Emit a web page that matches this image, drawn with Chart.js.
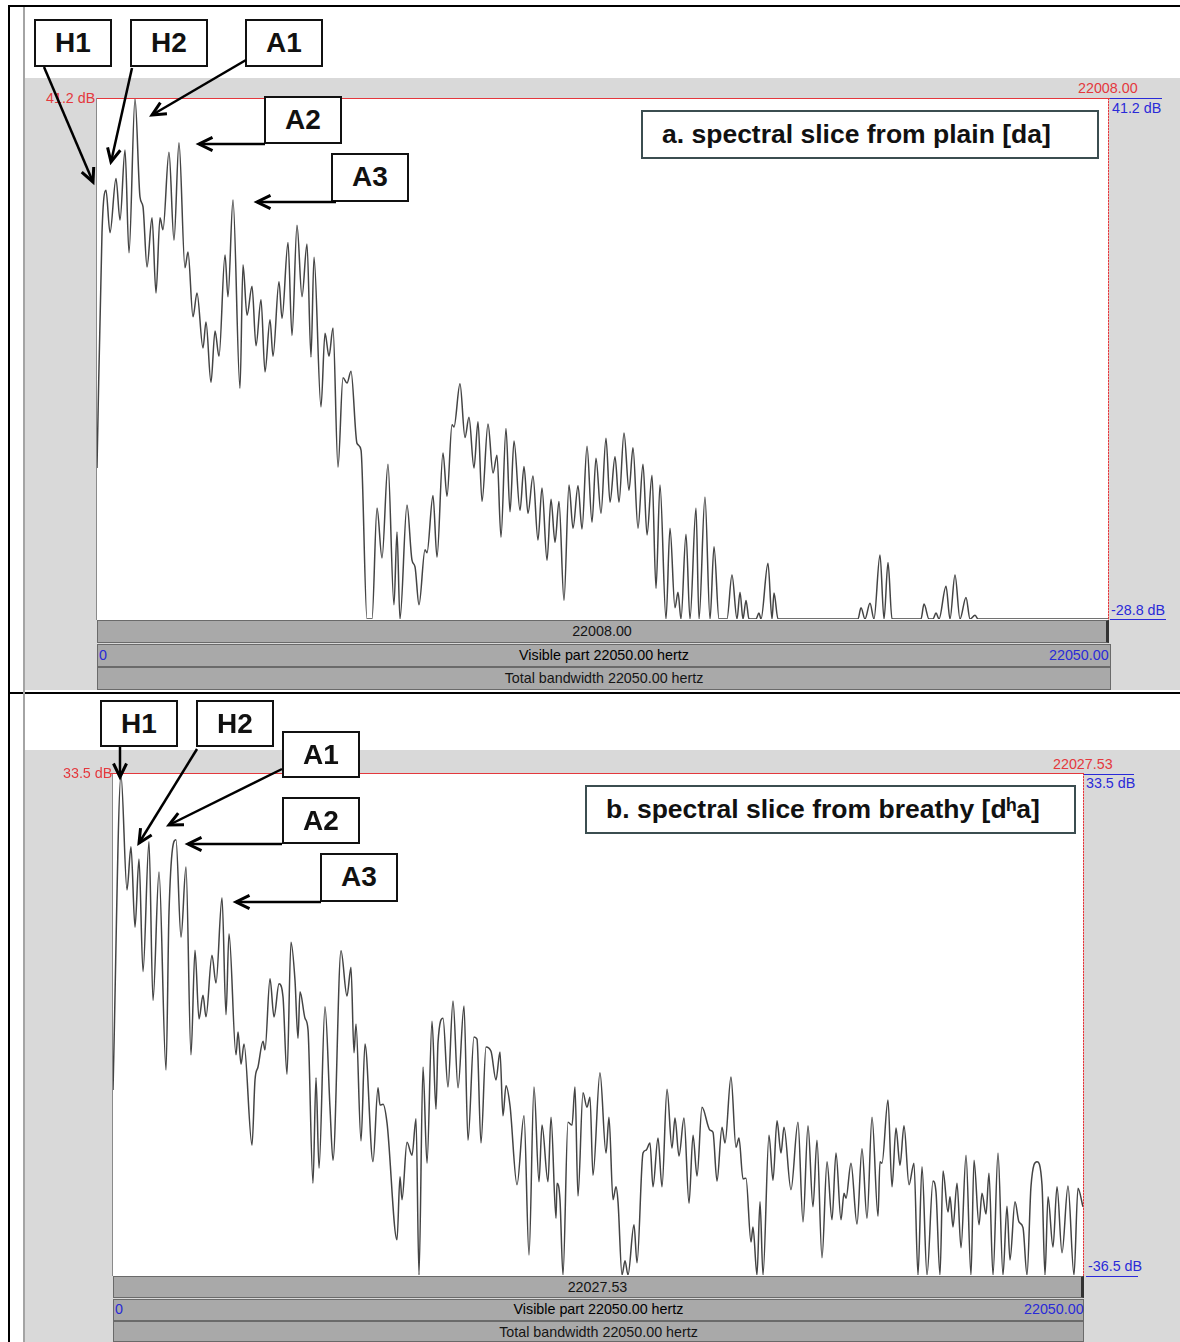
<!DOCTYPE html>
<html>
<head>
<meta charset="utf-8">
<script src="https://cdn.jsdelivr.net/npm/chart.js@4.4.0/dist/chart.umd.min.js"></script>
<style>
body{margin:0;width:1180px;height:1342px;position:relative;background:#fff;overflow:hidden;font-family:"Liberation Sans",Arial,Helvetica,sans-serif}
div,canvas,svg{position:absolute}
.grey{background:#d9d9d9}
.plot{background:#fff;border-left:1px solid #8a8a8a;box-sizing:border-box}
.bar{background:#a9a9a9;border:1px solid #6a6a6a;box-sizing:border-box;font-size:14.3px;line-height:20px;text-align:center;color:#151515}
.lbl{font-size:14.3px;white-space:nowrap;line-height:15px}
.red{color:#e4383d}
.blue{color:#2a2ad8}
.vdot{width:1px;background:repeating-linear-gradient(to bottom,#e4383d 0 2px,#f4a0a0 2px 3px)}
.box{background:#fff;border:2px solid #111;box-sizing:border-box;font-weight:bold;font-size:28px;text-align:center;line-height:43px;color:#111}
.title{background:#fff;border:2px solid #3b4d50;box-sizing:border-box;font-weight:bold;font-size:26.5px;padding-left:19px;line-height:44px;color:#111;white-space:nowrap}
</style>
</head>
<body>
<!-- frame -->
<div style="left:8px;top:5px;width:2px;height:1337px;background:#000"></div>
<div style="left:8px;top:5px;width:1172px;height:2px;background:#000"></div>
<div style="left:8px;top:692px;width:1172px;height:2px;background:#000"></div>
<div style="left:23px;top:7px;width:2px;height:1335px;background:#a4a4a4"></div>

<!-- panel a -->
<div class="grey" style="left:25px;top:78px;width:1155px;height:612px"></div>
<div class="plot" style="left:96px;top:98px;width:1012px;height:522px"></div>
<canvas id="chartA" width="1011" height="521" style="left:97px;top:98px"></canvas>
<div style="left:97px;top:98px;width:1013px;height:1px;background:#e4383d"></div>
<div class="vdot" style="left:1108px;top:98px;height:522px"></div>
<div class="lbl red" id="aTopL" style="left:46px;top:91px"></div>
<div class="lbl red" id="aFreq" style="left:1078px;top:81px"></div>
<div style="left:1110px;top:98px;width:52px;height:1px;background:#2a2ad8"></div>
<div class="lbl blue" id="aTopR" style="left:1112px;top:101px"></div>
<div class="lbl blue" id="aBot" style="left:1111px;top:603px"></div>
<div style="left:1110px;top:619px;width:56px;height:1px;background:#2a2ad8"></div>
<div class="bar" id="aBar1" style="left:97px;top:620px;width:1012px;height:23px;border-right:3px solid #333"></div>
<div class="bar" style="left:97px;top:644px;width:1014px;height:23px"></div>
<div class="lbl" id="aBar2" style="left:97px;top:648px;width:1014px;text-align:center"></div>
<div class="lbl blue" style="left:99px;top:648px">0</div>
<div class="lbl blue" id="aMax" style="left:1049px;top:648px"></div>
<div class="bar" id="aBar3" style="left:97px;top:667px;width:1014px;height:23px"></div>
<div class="title" style="left:641px;top:110px;width:458px;height:49px">a. spectral slice from plain [da]</div>
<div class="box" style="left:34px;top:19px;width:78px;height:48px">H1</div>
<div class="box" style="left:130px;top:19px;width:78px;height:48px">H2</div>
<div class="box" style="left:245px;top:19px;width:78px;height:48px">A1</div>
<div class="box" style="left:264px;top:96px;width:78px;height:48px">A2</div>
<div class="box" style="left:331px;top:153px;width:78px;height:49px">A3</div>

<!-- panel b -->
<div class="grey" style="left:25px;top:750px;width:1155px;height:592px"></div>
<div class="plot" style="left:112px;top:773px;width:971px;height:503px"></div>
<canvas id="chartB" width="970" height="502" style="left:113px;top:773px"></canvas>
<div style="left:111px;top:773px;width:972px;height:1px;background:#e4383d"></div>
<div class="vdot" style="left:1083px;top:773px;height:503px"></div>
<div class="lbl red" id="bTopL" style="left:63px;top:766px"></div>
<div class="lbl red" id="bFreq" style="left:1053px;top:757px"></div>
<div style="left:1084px;top:774px;width:50px;height:1px;background:#2a2ad8"></div>
<div class="lbl blue" id="bTopR" style="left:1086px;top:776px"></div>
<div class="lbl blue" id="bBot" style="left:1088px;top:1259px"></div>
<div style="left:1086px;top:1276px;width:52px;height:1px;background:#2a2ad8"></div>
<div class="bar" id="bBar1" style="left:113px;top:1276px;width:971px;height:22px;border-right:3px solid #333"></div>
<div class="bar" style="left:113px;top:1299px;width:971px;height:22px"></div>
<div class="lbl" id="bBar2" style="left:113px;top:1302px;width:971px;text-align:center"></div>
<div class="lbl blue" style="left:115px;top:1302px">0</div>
<div class="lbl blue" id="bMax" style="left:1024px;top:1302px"></div>
<div class="bar" id="bBar3" style="left:113px;top:1321px;width:971px;height:21px"></div>
<div class="title" style="left:585px;top:785px;width:491px;height:49px">b. spectral slice from breathy [dʰa]</div>
<div class="box" style="left:100px;top:700px;width:78px;height:47px">H1</div>
<div class="box" style="left:196px;top:700px;width:78px;height:47px">H2</div>
<div class="box" style="left:282px;top:731px;width:78px;height:47px">A1</div>
<div class="box" style="left:282px;top:797px;width:78px;height:47px">A2</div>
<div class="box" style="left:320px;top:853px;width:78px;height:49px">A3</div>

<svg id="arrows" width="1180" height="1342" style="left:0;top:0"></svg>

<script>
// frequency range and dB ranges of the two slices
const maxFreq = 22050;
const rangeA = [-28.8, 41.2];
const rangeB = [-36.5, 33.5];
const cursorA = "22008.00";
const cursorB = "22027.53";

// slice a: plain [da]
const freqA = [
  0,109,196,284,414,502,611,698,829,938,
  1003,1091,1200,1287,1374,1439,1570,1679,1788,1919,
  1985,2094,2181,2312,2377,2486,2574,2661,2792,2857,
  2966,3119,3184,3272,3381,3468,3577,3664,3773,3839,
  3969,4035,4166,4253,4362,4471,4580,4667,4733,4885,
  4973,5060,5147,5256,5365,5453,5540,5671,5758,5889,
  5998,6107,6216,6346,6477,6543,6608,6761,6870,6936,
  7023,7154,7197,7328,7415,7546,7634,7743,7786,7917,
  8026,8113,8222,8310,8397,8528,8637,8724,8811,8920,
  9008,9095,9226,9313,9400,9509,9618,9705,9815,9902,
  9989,10076,10185,10294,10382,10491,10578,10687,10796,10883,
  10992,11101,11189,11298,11385,11494,11603,11690,11799,11908,
  11996,12105,12192,12279,
  12410,12497,12606,12672,12737,12846,12933,13064,13130,13260,
  13370,13457,13566,13740,13849,13958,14024,14089,14155,14220,
  14373,14438,14482,14634,14722,14765,14853,
  16597,16663,16750,16859,16946,17077,17165,17252,17339,
  17971,18037,18146,18233,18299,18364,18517,18604,18713,18822,
  18953,19040,19149,19215,22050
];
const dbA = [
  -8.5,23.1,28.8,23.1,30.4,24.8,34.2,20.4,41.1,27.9,
  26.6,18.5,25.1,15.0,25.1,23.5,33.9,22.1,35.2,18.4,
  20.5,11.8,15.0,7.6,11.1,3.0,9.9,6.5,20.1,14.5,
  27.5,2.2,18.8,12.0,15.9,7.9,14.1,4.4,11.4,6.5,
  16.5,11.6,21.8,9.3,24.1,14.5,21.6,6.4,19.8,-0.3,
  9.6,6.5,10.3,-8.4,3.6,2.9,4.5,-5.2,-6.1,-28.8,
  -28.8,-13.9,-20.6,-8.0,-26.9,-17.1,-28.8,-13.5,-20.9,-21.8,
  -26.9,-19.5,-19.9,-12.2,-20.5,-6.5,-12.3,-2.7,-3.0,2.8,
  -4.4,-1.7,-8.5,-2.3,-13.0,-2.6,-9.2,-6.8,-17.8,-3.2,
  -14.4,-4.9,-14.2,-8.3,-14.6,-9.6,-18.2,-11.2,-20.9,-12.7,
  -18.5,-13.0,-26.3,-10.8,-16.6,-10.9,-16.7,-5.6,-15.8,-7.2,
  -14.6,-4.5,-13.1,-7.0,-13.1,-3.8,-11.5,-5.8,-16.6,-8.0,
  -17.5,-9.5,-24.7,-10.8,
  -28.8,-16.6,-27.3,-25.2,-28.8,-17.4,-28.8,-13.9,-28.8,-12.4,
  -28.8,-19.1,-28.8,-28.8,-22.9,-28.8,-25.2,-28.8,-26.3,-28.8,
  -28.8,-28.0,-28.8,-21.3,-28.8,-25.3,-28.8,
  -28.8,-27.3,-28.8,-26.7,-28.8,-20.2,-28.8,-21.2,-28.8,
  -28.8,-26.8,-28.8,-28.8,-28.0,-28.8,-24.4,-28.8,-22.9,-28.8,
  -25.9,-28.8,-28.3,-28.8,-28.8
];

// slice b: breathy [dʰa]
const freqB = [
  0,182,318,409,500,591,682,818,909,1046,
  1205,1273,1432,1546,1659,1773,1864,1955,2046,2114,
  2250,2341,2478,2569,2637,2796,2842,2910,2978,3160,
  3228,3296,3410,3455,3569,3660,3774,3864,3955,4046,
  4137,4205,4251,4365,4433,4546,4615,4683,4819,4933,
  5001,5183,5319,5410,5478,5524,5638,5728,5910,6024,
  6069,6138,6229,6456,6524,6570,6683,6797,6888,6956,
  7047,7138,7252,7342,7388,7502,7615,7729,7843,7979,
  8070,8206,8274,8365,8479,8593,8706,8797,8865,8934,
  9025,9184,9343,9457,9570,9684,9752,9888,9957,10070,
  10093,10161,10229,10343,10434,10502,10570,10684,10775,10843,
  10911,11070,11207,11275,11366,11434,11480,11571,11639,11707,
  11843,11912,12048,12116,12207,12275,12389,12480,12594,12707,
  12775,12866,12980,13094,13185,13276,13389,13571,13639,13730,
  13844,13912,14048,14162,14230,14321,14389,14503,14548,14639,
  14708,14776,14912,15003,15094,15185,15253,15412,15571,15685,
  15799,15912,16003,16117,16231,16344,16435,16549,16617,16663,
  16776,16913,17026,17140,17254,17390,17435,17481,17617,17708,
  17799,17890,17981,18095,18208,18299,18390,18504,18640,18708,
  18799,18868,18981,19027,19095,19186,19277,19391,19504,19572,
  19686,19754,19845,19913,20004,20118,20231,20322,20390,20504,
  20595,20686,20777,20868,21004,21118,21186,21255,21368,21459,
  21573,21709,21845,21936,22050
];
const dbB = [
  -10.7,33.2,17.2,23.2,12.0,21.5,5.8,23.9,1.8,19.7,
  -7.9,14.1,24.2,10.6,20.4,-5.8,8.8,-0.8,2.5,-0.5,
  8.1,4.2,16.1,-0.2,11.1,-5.8,-2.6,-7.1,-4.3,-18.4,
  -9.3,-7.5,-3.9,-5.1,4.8,-0.5,4.1,2.3,-8.5,9.9,
  4.6,-3.5,3.0,-0.7,-2.3,-23.7,-9.0,-21.6,0.9,-13.2,
  -20.5,8.7,2.4,6.4,-5.5,-1.5,-17.8,-4.3,-20.7,-10.4,
  -12.8,-12.7,-15.3,-31.6,-22.8,-26.0,-18.0,-19.8,-14.7,-36.5,
  -7.5,-20.9,-1.1,-13.4,-4.1,-0.7,-10.3,1.7,-10.4,1.0,
  -17.7,-3.3,-3.6,-18.1,-4.7,-5.3,-9.3,-5.4,-14.3,-10.1,
  -12.9,-23.9,-14.3,-33.7,-10.3,-23.5,-15.6,-23.5,-14.5,-28.6,
  -23.7,-26.0,-36.5,-15.2,-15.6,-10.3,-25.5,-11.1,-13.1,-11.7,
  -22.6,-8.3,-19.5,-14.5,-26.0,-24.2,-26.3,-36.5,-34.5,-36.5,
  -29.5,-34.8,-19.5,-19.1,-18.1,-24.2,-17.4,-24.2,-10.6,-18.8,
  -14.6,-19.9,-14.6,-26.5,-17.0,-22.7,-13.1,-16.3,-16.6,-23.4,
  -15.9,-18.1,-8.9,-18.7,-17.4,-23.1,-23.0,-31.9,-29.8,-36.5,
  -26.3,-36.5,-17.0,-23.3,-15.0,-19.5,-15.9,-24.6,-15.2,-29.1,
  -15.7,-27.0,-17.7,-34.1,-20.7,-28.8,-19.5,-28.8,-25.1,-25.8,
  -20.9,-29.4,-18.9,-28.6,-14.5,-28.3,-20.7,-20.9,-12.1,-24.2,
  -16.0,-21.2,-15.7,-23.9,-20.9,-36.5,-21.4,-36.5,-23.4,-24.9,
  -36.5,-22.0,-27.7,-25.6,-29.8,-23.7,-32.7,-19.8,-36.5,-20.5,
  -29.5,-25.1,-28.0,-22.3,-36.5,-19.5,-36.5,-26.9,-34.4,-26.3,
  -29.1,-29.9,-36.5,-24.1,-20.7,-23.9,-36.5,-25.6,-32.6,-24.2,
  -33.4,-24.1,-36.5,-24.4,-27.0
];

function spectrum(id, freq, db, range) {
  new Chart(document.getElementById(id), {
    type: "line",
    data: {
      datasets: [{
        data: freq.map((f, i) => ({x: f, y: db[i]})),
        borderColor: "#444",
        borderWidth: 1.5,
        pointRadius: 0,
        cubicInterpolationMode: "monotone",
        fill: false
      }]
    },
    options: {
      responsive: false,
      animation: false,
      devicePixelRatio: 1,
      layout: {padding: 0},
      plugins: {legend: {display: false}, tooltip: {enabled: false}},
      scales: {
        x: {type: "linear", min: 0, max: maxFreq, display: false},
        y: {min: range[0], max: range[1], display: false}
      }
    }
  });
}
spectrum("chartA", freqA, dbA, rangeA);
spectrum("chartB", freqB, dbB, rangeB);

// Praat-style labels
const set = (id, t) => document.getElementById(id).textContent = t;
const fmt = v => v.toFixed(1) + " dB";
set("aTopL", fmt(rangeA[1])); set("aTopR", fmt(rangeA[1])); set("aBot", fmt(rangeA[0]));
set("bTopL", fmt(rangeB[1])); set("bTopR", fmt(rangeB[1])); set("bBot", fmt(rangeB[0]));
set("aFreq", cursorA); set("aBar1", cursorA);
set("bFreq", cursorB); set("bBar1", cursorB);
["a", "b"].forEach(p => {
  set(p + "Bar2", "Visible part " + maxFreq.toFixed(2) + " hertz");
  set(p + "Bar3", "Total bandwidth " + maxFreq.toFixed(2) + " hertz");
  set(p + "Max", maxFreq.toFixed(2));
});

// annotation arrows
const arrows = [
  [44,67,93,182],[132,68,111,162],[246,60,152,115],[265,144,199,144],[336,202,257,202],
  [120,747,120,777],[197,749,139,843],[282,769,169,825],[282,844,188,844],[321,902,236,902]
];
const svg = document.getElementById("arrows");
let s = "";
arrows.forEach(([x1, y1, x2, y2]) => {
  const a = Math.atan2(y2 - y1, x2 - x1), L = 15, w = 0.45;
  const h1 = [x2 - L * Math.cos(a - w), y2 - L * Math.sin(a - w)];
  const h2 = [x2 - L * Math.cos(a + w), y2 - L * Math.sin(a + w)];
  s += `<line x1="${x1}" y1="${y1}" x2="${x2}" y2="${y2}" stroke="#000" stroke-width="2.5"/>`;
  s += `<polyline points="${h1[0]},${h1[1]} ${x2},${y2} ${h2[0]},${h2[1]}" fill="none" stroke="#000" stroke-width="3" stroke-linejoin="miter"/>`;
});
svg.innerHTML = s;
</script>
</body>
</html>
